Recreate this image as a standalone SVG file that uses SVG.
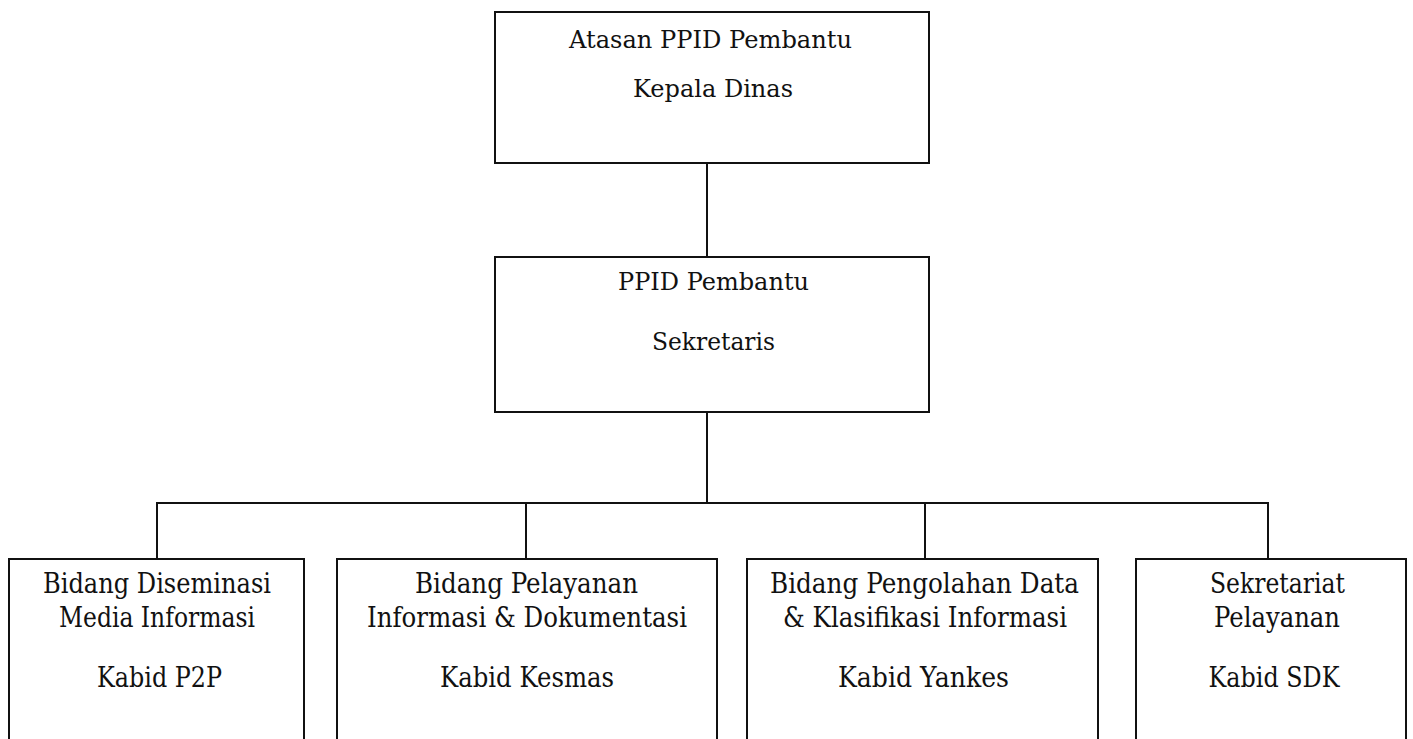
<svg xmlns="http://www.w3.org/2000/svg" width="1413" height="739" viewBox="0 0 1413 739">
<style>
.box{fill:#fff;stroke:#111;stroke-width:2}
.con{fill:none;stroke:#111;stroke-width:2}
text{font-family:"DejaVu Serif","Liberation Serif",serif;fill:#111;text-anchor:middle}
.t{font-size:25px}
.b{font-size:27px}
</style>
<rect width="1413" height="739" fill="#fff"/>
<g id="connectors">
<path class="con" d="M707 163V257M707 412V503M157 559V503H1268V559M526 503V559M925 503V559"/>
</g>
<g id="n-atasan">
<rect class="box" x="495" y="12" width="434" height="151"/>
<text class="t" x="710.5" y="48" textLength="283" lengthAdjust="spacingAndGlyphs">Atasan PPID Pembantu</text>
<text class="t" x="713" y="97" textLength="160" lengthAdjust="spacingAndGlyphs">Kepala Dinas</text>
</g>
<g id="n-ppid">
<rect class="box" x="495" y="257" width="434" height="155"/>
<text class="t" x="713.5" y="290" textLength="191" lengthAdjust="spacingAndGlyphs">PPID Pembantu</text>
<text class="t" x="713.5" y="350" textLength="123" lengthAdjust="spacingAndGlyphs">Sekretaris</text>
</g>
<g id="n-diseminasi">
<rect class="box" x="9" y="559" width="295" height="190"/>
<text class="b" x="157" y="593" textLength="228" lengthAdjust="spacingAndGlyphs">Bidang Diseminasi</text>
<text class="b" x="157" y="627" textLength="196" lengthAdjust="spacingAndGlyphs">Media Informasi</text>
<text class="b" x="159.5" y="687" textLength="125" lengthAdjust="spacingAndGlyphs">Kabid P2P</text>
</g>
<g id="n-pelayanan">
<rect class="box" x="337" y="559" width="380" height="190"/>
<text class="b" x="526.5" y="593" textLength="223" lengthAdjust="spacingAndGlyphs">Bidang Pelayanan</text>
<text class="b" x="527" y="627" textLength="320" lengthAdjust="spacingAndGlyphs">Informasi &amp; Dokumentasi</text>
<text class="b" x="527" y="687" textLength="174" lengthAdjust="spacingAndGlyphs">Kabid Kesmas</text>
</g>
<g id="n-pengolahan">
<rect class="box" x="747" y="559" width="351" height="190"/>
<text class="b" x="924.5" y="593" textLength="309" lengthAdjust="spacingAndGlyphs">Bidang Pengolahan Data</text>
<text class="b" x="925" y="627" textLength="284" lengthAdjust="spacingAndGlyphs">&amp; Klasifikasi Informasi</text>
<text class="b" x="923.5" y="687" textLength="171" lengthAdjust="spacingAndGlyphs">Kabid Yankes</text>
</g>
<g id="n-sekretariat">
<rect class="box" x="1136" y="559" width="270" height="190"/>
<text class="b" x="1277.5" y="593" textLength="135" lengthAdjust="spacingAndGlyphs">Sekretariat</text>
<text class="b" x="1277" y="627" textLength="126" lengthAdjust="spacingAndGlyphs">Pelayanan</text>
<text class="b" x="1274" y="687" textLength="131" lengthAdjust="spacingAndGlyphs">Kabid SDK</text>
</g>
</svg>
